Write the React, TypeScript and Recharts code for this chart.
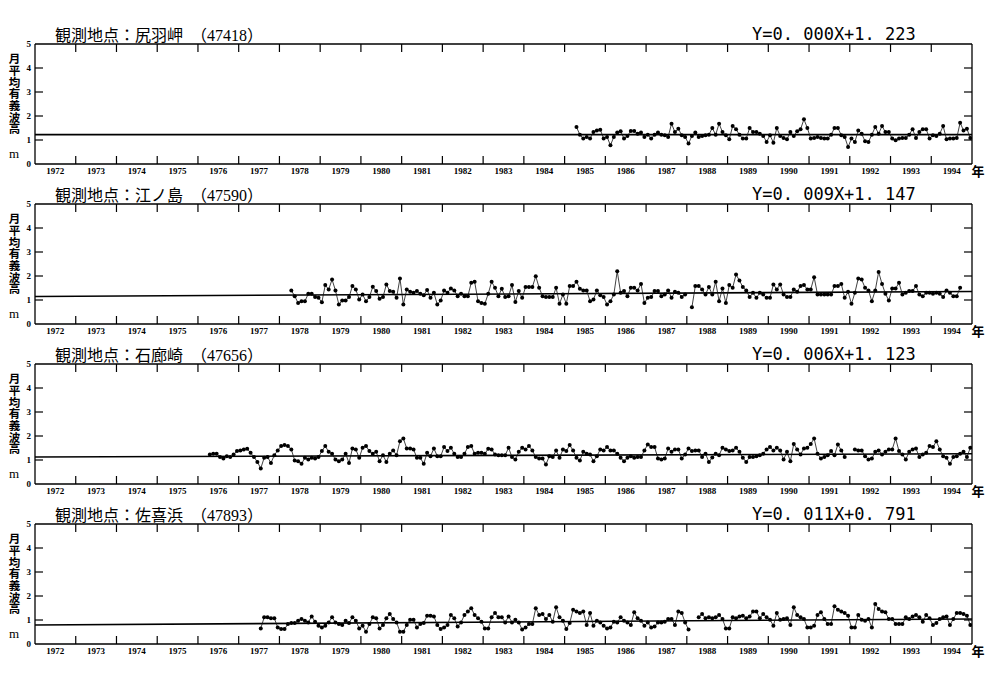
import React from 'react';
import { LineChart, Line, XAxis, YAxis } from 'recharts';

const yearLabels = [1972, 1973, 1974, 1975, 1976, 1977, 1978, 1979, 1980, 1981, 1982, 1983, 1984, 1985, 1986, 1987, 1988, 1989, 1990, 1991, 1992, 1993, 1994];
const yearBoundaries = [1973, 1974, 1975, 1976, 1977, 1978, 1979, 1980, 1981, 1982, 1983, 1984, 1985, 1986, 1987, 1988, 1989, 1990, 1991, 1992, 1993, 1994];
const yTickValues = [0, 1, 2, 3, 4, 5];
const yInnerTicks = [1, 2, 3, 4];
const xDomain = [1972, 1995];

const stationTitles = ['観測地点：尻羽岬　（47418）', '観測地点：江ノ島　（47590）', '観測地点：石廊崎　（47656）', '観測地点：佐喜浜　（47893）'];
const equationTexts = ['Y=0. 000X+1. 223', 'Y=0. 009X+1. 147', 'Y=0. 006X+1. 123', 'Y=0. 011X+0. 791'];
const slopes = [0.0, 0.009, 0.006, 0.011];
const intercepts = [1.223, 1.147, 1.123, 0.791];
const startYears = [1985, 1978, 1976, 1977];
const startMonths = [4, 4, 4, 7];
const yAxisTitle = '月平均有義波高';
const yAxisUnit = 'm';
const xAxisUnit = '年';

const wave1 = [
  1.54, 1.22, 1.06, 1.13, 1.06, 1.33, 1.40, 1.43, 1.06, 1.13,
  0.78, 1.13, 1.31, 1.36, 1.06, 1.17, 1.38, 1.38, 1.26, 1.31,
  1.13, 1.22, 1.06, 1.22, 1.31, 1.22, 1.20, 1.13, 1.68,
  1.33, 1.47, 1.20, 1.13, 0.85, 1.17, 1.31, 1.13, 1.17, 1.20,
  1.22, 1.50, 1.22, 1.68, 1.33, 1.20, 1.03, 1.58, 1.45, 1.22,
  1.06, 1.06, 1.50, 1.33, 1.33, 1.26, 1.17, 0.92, 1.20, 0.89,
  1.50, 1.17, 1.08, 1.03, 1.33, 1.17, 1.36, 1.45, 1.86, 1.50,
  1.06, 1.08, 1.13, 1.08, 1.06, 1.06, 1.22, 1.50, 1.50,
  1.20, 1.13, 0.71, 1.06, 0.92, 1.40, 1.26, 0.95, 0.92, 1.22,
  1.54, 1.26, 1.58, 1.33, 1.33, 1.06, 0.99, 1.06, 1.08, 1.08,
  1.22, 1.45, 1.08, 1.33, 1.45, 1.45, 1.06, 1.20, 1.17, 1.26,
  1.58, 1.03, 1.06, 1.06, 1.08, 1.72, 1.40, 1.47, 1.08,
];

const wave2 = [
  1.40, 1.16, 0.88, 0.95, 0.95, 1.26, 1.26, 1.12, 1.09, 0.91,
  1.62, 1.44, 1.85, 1.40, 0.81, 0.98, 0.98, 1.12, 1.58, 1.44,
  1.02, 1.23, 0.95, 1.12, 1.55, 1.37, 1.05, 1.12, 1.65, 1.37,
  1.34, 1.09, 1.90, 0.81, 1.44, 1.34, 1.30, 1.37, 1.26, 1.20,
  1.42, 1.09, 1.30, 0.81, 0.98, 1.40, 1.30, 1.48, 1.40, 1.16,
  1.26, 1.16, 1.16, 1.72, 1.76, 0.95, 0.88, 0.84, 1.26, 1.76,
  1.51, 1.16, 1.47, 1.12, 1.16, 1.62, 0.92, 1.37, 1.09, 1.54,
  1.54, 1.54, 1.99, 1.51, 1.16, 1.12, 1.12, 1.12, 1.51, 0.84,
  1.23, 0.84, 1.58, 1.58, 1.76, 1.47, 1.40, 1.40, 0.95, 1.02,
  1.40, 1.20, 1.12, 0.81, 0.95, 1.23, 2.20, 1.30, 1.37, 1.16,
  1.51,
  1.51, 1.40, 1.67, 0.88, 1.09, 1.12, 1.37, 1.37, 1.16, 1.23,
  1.40, 1.09, 1.34, 1.30, 1.13, 1.23, null, 0.70, 1.58, 1.58,
  1.44, 1.23, 1.54, 1.23, 1.76, 0.95, 1.48, 0.88, 1.62, 1.51,
  2.06, 1.81, 1.54, 1.40, 1.12, 1.30, 1.09, 1.30, 1.23, 1.09,
  1.09, 1.65, 1.44, 1.65, 1.23, 1.12, 1.12, 1.44, 1.34, 1.58,
  1.62, 1.44, 1.44, 1.95, 1.23, 1.23, 1.23, 1.23, 1.23, 1.58,
  1.58, 1.67, 1.09, 1.34, 0.84, 1.30, 1.90, 1.85, 1.51, 1.40,
  0.95, 1.40, 2.17, 1.67, 1.26, 0.98, 1.48, 1.48, 1.72, 1.23,
  1.30, 1.37, 1.37, 1.58, 1.23, 1.16, 1.30, 1.30, 1.26, 1.30,
  1.26, 1.12, 1.40, 1.30, 1.16, 1.16, 1.51,
];

const wave3 = [
  1.23, 1.26, 1.26, 1.12, 1.06, 1.16, 1.12, 1.23, 1.37, 1.40,
  1.44, 1.47, 1.30, 1.12, 0.92, 0.65, 1.09, 1.12, 0.88, 1.20,
  1.40, 1.58, 1.62, 1.58, 1.44, 0.98, 0.95, 0.84, 1.09, 1.02,
  1.09, 1.06, 1.12, 1.37, 1.58, 1.34, 1.26, 1.02, 0.95, 1.02,
  1.26, 0.88, 1.48, 1.44, 1.09, 1.51, 1.58, 1.37, 1.26, 1.34,
  0.95, 1.20, 0.92, 1.26, 1.40, 1.20, 1.78, 1.90, 1.48, 1.48,
  1.44, 1.09, 1.09, 0.84, 1.30, 1.16, 1.48, 1.16, 1.16, 1.54,
  1.37, 1.51, 1.26, 1.12, 1.12, 1.26, 1.54, 1.58, 1.26, 1.30,
  1.30, 1.26, 1.47, 1.44, 1.23, 1.20, 1.20, 1.20, 1.51, 1.12,
  1.02, 1.34, 1.51, 1.44, 1.58, 1.40, 1.12, 1.06, 1.06, 0.81,
  1.16, 1.12, 1.40, 1.09, 1.44, 1.37, 1.62, 1.40, 1.09, 0.98,
  1.34, 1.26,
  1.23, 0.95, 1.16, 1.44, 1.40, 1.54, 1.40, 1.40, 1.26, 1.09,
  0.95, 1.09, 1.16, 1.09, 1.12, 1.12, 1.40, 1.65, 1.54, 1.54,
  1.06, 1.02, 1.06, 1.48, 1.34, 1.44, 1.44, 1.06, 1.23, 1.48,
  1.37, 1.40, 1.40, 1.12, 1.26, 0.92, 1.10, 1.26, 1.20, 1.51,
  1.44, 1.37, 1.40, 1.51, 1.34, 1.09, 0.92, 1.12, 1.12, 1.16,
  1.20, 1.26, 1.44, 1.54, 1.40, 1.51, 1.40, 1.02, 1.34, 0.95,
  1.67, 1.44, 1.23, 1.48, 1.51, 1.67, 1.90, 1.26, 1.06, 1.12,
  1.20, 1.37, 1.20, 1.65, 1.40, 1.12, null, null, 1.44, 1.40,
  1.40, 1.16, 1.02, 1.06, 1.34, 1.40, 1.23, 1.34, 1.44, 1.44,
  1.90, 1.37, 1.23, 1.02, 1.34, 1.44, 1.48, 1.12, 1.23, 1.30,
  1.58, 1.54, 1.78, 1.44, 1.16, 1.09, 0.84, 1.12, 1.16, 1.26,
  1.34, 1.12, 1.51,
];

const wave4 = [
  0.65, 1.11, 1.11, 1.07, 1.07, 0.69, 0.62, 0.62, 0.83, 0.87,
  0.87, 0.97, 1.04, 0.97, 0.90, 1.15, 0.93, 0.76, 0.69, 0.76,
  0.90, 1.11, 0.90, 0.83, 0.79, 0.97, 0.87, 1.11, 0.97, 0.65,
  0.76, 0.51, 0.83, 1.11, 1.07, 0.65, 0.79, 1.07, 1.25, 1.04,
  0.90, 0.51, 0.51, 0.79, 1.01, 1.01, 0.69, 0.83, 0.87, 1.18,
  1.18, 1.15, 0.79, 0.62, 0.69, 0.79, 1.21, 1.07, 0.73, 0.90,
  1.21, 1.35, 1.49, 1.21, 1.07, 0.93, 0.65, 0.65, 1.11, 1.29,
  1.11, 1.11, 0.90, 1.15, 0.90, 1.01, 0.90, 0.60, 0.69, 0.83,
  0.83, 1.49, 1.21, 1.25, 1.04, 1.21, 0.93, 1.53, 1.11, 0.97,
  0.62, 0.87, 1.43, 1.35, 1.29, 1.35, 0.79, 1.29, 0.76, 0.97,
  0.90, 0.76, 0.65, 0.69, 0.93,
  0.90, 1.11, 0.97, 0.90, 0.79, 1.32, 1.07, 0.97, 0.76, 0.90,
  0.69, 0.73, 0.90, 0.90, 0.93, 1.04, 1.04, 0.79, 1.35, 1.29,
  0.90, 0.60, null, null, 1.11, 1.25, 1.07, 1.11, 1.07, 1.11,
  1.21, 1.04, 0.65, 0.65, 1.11, 1.07, 1.15, 1.18, 1.07, 1.15,
  1.35, 1.35, 1.07, 1.25, 1.11, 1.01, 0.76, 1.29,
  1.01, 1.04, 1.07, 0.79, 1.53, 1.21, 1.11, 1.04, 0.69,
  0.69, 0.76, 1.21, 1.32, 1.04, 0.83, 0.83, 1.57, 1.43, 1.35,
  1.29, 1.18, 0.69, 0.69, 1.21, 1.01, 0.97, 1.04, 0.69, 1.67,
  1.46, 1.35, 1.32, 1.04, 1.04, 0.83, 0.83, 0.83, 1.11, 1.04,
  1.15, 1.21, 1.11, 0.93, 1.21, 1.07, 0.79, 0.87, 1.04, 1.11,
  1.15, 0.79, 1.04, 1.29, 1.29, 1.25, 1.18, 0.79,
];

const waves = [wave1, wave2, wave3, wave4];

const buildSeries = (k: number) =>
  waves[k].map((v, i) => ({ x: startYears[k] + (startMonths[k] - 1 + i + 0.5) / 12, v }));

const buildTrend = (k: number) => [
  { x: xDomain[0], v: intercepts[k] },
  { x: xDomain[1], v: intercepts[k] + slopes[k] * (xDomain[1] - xDomain[0]) },
];

const yearCenters = yearLabels.map((y) => y + 0.5);

const EmptyTick = () => <g />;

const PANEL_STEP = 160;
const CHART_H = 190;
const axisStroke = { stroke: '#000', strokeWidth: 1.3 };
const tickStroke = { stroke: '#000', strokeWidth: 1.2 };
const labelFont = { fontSize: 9, fontWeight: 700, fontFamily: "'Liberation Serif', serif", fill: '#000' };

const Panel = ({ k }: { k: number }) => {
  const series = buildSeries(k);
  const trend = buildTrend(k);
  return (
    <div style={{ position: 'absolute', left: 0, top: PANEL_STEP * k, width: 1000, height: CHART_H }}>
      <LineChart width={1000} height={CHART_H} data={series} margin={{ top: 44, right: 28, bottom: 6, left: 0 }}>
        <XAxis xAxisId="xb" dataKey="x" type="number" domain={xDomain} allowDataOverflow ticks={yearBoundaries}
          orientation="bottom" mirror height={10} tick={EmptyTick} interval={0} tickSize={8}
          axisLine={axisStroke} tickLine={tickStroke} />
        <XAxis xAxisId="xt" dataKey="x" type="number" domain={xDomain} allowDataOverflow ticks={yearBoundaries}
          orientation="top" mirror height={10} tick={EmptyTick} interval={0} tickSize={8}
          axisLine={axisStroke} tickLine={tickStroke} />
        <XAxis xAxisId="xl" dataKey="x" type="number" domain={xDomain} allowDataOverflow ticks={yearCenters}
          orientation="bottom" height={20} axisLine={false} tickLine={false} interval={0} tickSize={3} tickMargin={1}
          tick={labelFont} tickFormatter={(v: number) => String(Math.floor(v))} />
        <YAxis yAxisId="yl" type="number" domain={[0, 5]} allowDataOverflow ticks={yInnerTicks}
          orientation="left" mirror width={10} tick={EmptyTick} interval={0} tickSize={8}
          axisLine={axisStroke} tickLine={tickStroke} />
        <YAxis yAxisId="yr" type="number" domain={[0, 5]} allowDataOverflow ticks={yInnerTicks}
          orientation="right" mirror width={10} tick={EmptyTick} interval={0} tickSize={8}
          axisLine={axisStroke} tickLine={tickStroke} />
        <YAxis yAxisId="ylab" type="number" domain={[0, 5]} allowDataOverflow ticks={yTickValues}
          orientation="left" width={35} axisLine={false} tickLine={false} interval={0} tickSize={2} tickMargin={2}
          tick={labelFont} />
        <Line xAxisId="xb" yAxisId="yl" data={trend} dataKey="v" type="linear" stroke="#000" strokeWidth={1.6}
          dot={false} activeDot={false} isAnimationActive={false} />
        <Line xAxisId="xb" yAxisId="yl" dataKey="v" type="linear" stroke="#111" strokeWidth={0.8}
          dot={{ r: 2, fill: '#000', stroke: '#000', strokeWidth: 0 }} activeDot={false}
          connectNulls={false} isAnimationActive={false} />
      </LineChart>
    </div>
  );
};

const Overlay = () => (
  <svg width={1000} height={684} style={{ position: 'absolute', left: 0, top: 0, pointerEvents: 'none' }}>
    {stationTitles.map((t, k) => (
      <g key={k}>
        <text x={55} y={41 + PANEL_STEP * k} fontSize={16}
          fontFamily="'Liberation Serif', 'Noto Sans CJK JP', serif" fill="#000">{t}</text>
        <text x={752} y={40 + PANEL_STEP * k} fontSize={17}
          fontFamily="'DejaVu Sans Mono', monospace" fill="#000">{equationTexts[k]}</text>
        <text x={978} y={176 + PANEL_STEP * k} fontSize={13} textAnchor="middle" fontWeight={700}
          fontFamily="'Noto Sans CJK JP', sans-serif" fill="#000">{xAxisUnit}</text>
        <text x={14.5} y={53 + PANEL_STEP * k} fontSize={11.5} fontWeight={700} letterSpacing={0.2}
          style={{ writingMode: 'vertical-rl' }}
          fontFamily="'Noto Sans CJK JP', sans-serif" fill="#000">{yAxisTitle}</text>
        <text x={14} y={158 + PANEL_STEP * k} fontSize={13} textAnchor="middle"
          fontFamily="'Liberation Serif', serif" fill="#000">{yAxisUnit}</text>
      </g>
    ))}
  </svg>
);

export default function App() {
  return (
    <div style={{ position: 'absolute', left: 0, top: 0, width: 1000, height: 684, background: '#fff' }}>
      {[0, 1, 2, 3].map((k) => (
        <Panel key={k} k={k} />
      ))}
      <Overlay />
    </div>
  );
}
